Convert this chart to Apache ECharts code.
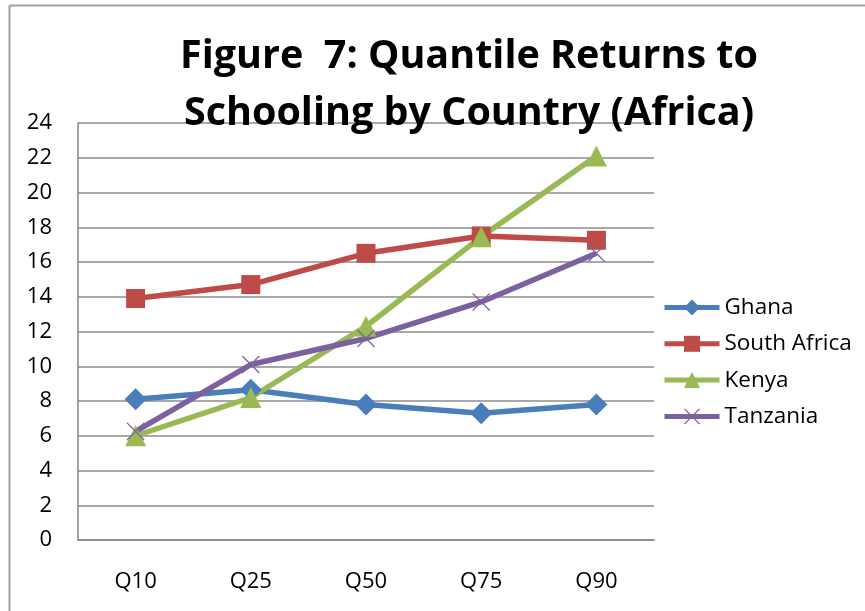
<!DOCTYPE html>
<html>
<head>
<meta charset="utf-8">
<title>Figure 7</title>
<script src="https://cdn.jsdelivr.net/npm/echarts@6/dist/echarts.min.js"></script>
<style>
    html, body { margin: 0; padding: 0; background: #fff; }
    #chart { width: 865px; height: 611px; }
</style>
</head>
<body>
<div id="chart"></div>
<script type="text/javascript">
    // data
    var quantiles = ['Q10', 'Q25', 'Q50', 'Q75', 'Q90'];
    var ghana = [8.1, 8.65, 7.8, 7.3, 7.8];
    var southAfrica = [13.9, 14.7, 16.5, 17.5, 17.25];
    var kenya = [6.0, 8.2, 12.3, 17.45, 22.1];
    var tanzania = [6.25, 10.1, 11.6, 13.7, 16.5];

    var font = '"Open Sans", Lato, sans-serif';
    // thin X shape for Tanzania markers
    var crossPath = 'path://M0,1L1,0L10,9L19,0L20,1L11,10L20,19L19,20L10,11L1,20L0,19L9,10Z';

    function makeSeries(name, data, color, symbol, size) {
        return {
            name: name,
            type: 'line',
            data: data,
            symbol: symbol,
            symbolSize: size,
            lineStyle: {color: color, width: 5.5},
            itemStyle: {color: color},
            emphasis: {disabled: true},
            z: 3
        };
    }

    var chart = echarts.init(document.getElementById('chart'));
    var option = {
        animation: false,
        title: {
            text: 'Figure  7: Quantile Returns to\nSchooling by Country (Africa)',
            left: 464,
            textAlign: 'center',
            top: 23,
            textStyle: {
                fontFamily: font,
                fontWeight: 'bold',
                fontSize: 39.5,
                lineHeight: 57,
                color: '#000'
            }
        },
        legend: {
            orient: 'vertical',
            left: 657,
            top: 291,
            itemWidth: 55,
            itemHeight: 20,
            itemGap: 13.3,
            lineStyle: {width: 5},
            textStyle: {fontFamily: font, fontSize: 22.5, lineHeight: 20, color: '#000'},
            data: ['Ghana', 'South Africa', 'Kenya', 'Tanzania']
        },
        grid: {left: 78, right: 211, top: 123, bottom: 71},
        xAxis: {
            type: 'category',
            data: quantiles,
            boundaryGap: true,
            axisLine: {lineStyle: {color: '#868686', width: 1.5}},
            axisTick: {show: false},
            axisLabel: {fontFamily: font, fontSize: 22, color: '#000', margin: 31}
        },
        yAxis: {
            type: 'value',
            min: 0,
            max: 24,
            interval: 2,
            axisLine: {show: true, lineStyle: {color: '#868686', width: 1.5}},
            axisTick: {show: false},
            axisLabel: {fontFamily: font, fontSize: 22, color: '#000', margin: 26},
            splitLine: {lineStyle: {color: '#8c8c8c', width: 1.5}}
        },
        graphic: [
            {type: 'line', shape: {x1: 9.5, y1: 5.5, x2: 865, y2: 5.5}, style: {stroke: '#a0a0a0', lineWidth: 2}},
            {type: 'line', shape: {x1: 9.5, y1: 5.5, x2: 9.5, y2: 611}, style: {stroke: '#a0a0a0', lineWidth: 2}}
        ],
        series: [
            makeSeries('Ghana', ghana, '#4A7EBB', 'diamond', 22),
            makeSeries('South Africa', southAfrica, '#BE4B48', 'rect', 19),
            makeSeries('Kenya', kenya, '#98B954', 'triangle', 21),
            makeSeries('Tanzania', tanzania, '#7D60A0', crossPath, 18)
        ]
    };
    chart.setOption(option);
</script>
</body>
</html>
